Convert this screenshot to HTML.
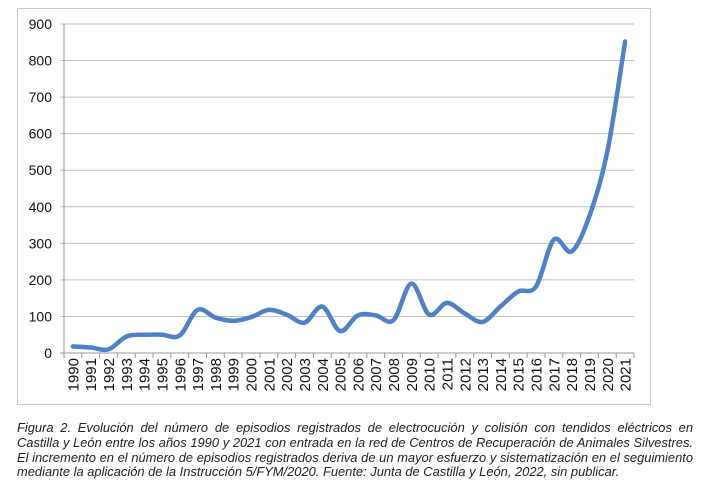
<!DOCTYPE html>
<html><head><meta charset="utf-8"><style>
body{margin:0;background:#fff;width:714px;height:488px;overflow:hidden;font-family:"Liberation Sans",sans-serif}
.cap{position:absolute;left:17px;top:421px;width:676px;font-style:italic;font-size:12.9px;line-height:14.8px;color:#222;text-align:justify}
.cap span{display:block;text-align:justify;text-align-last:justify;white-space:nowrap}
.cap span.l{text-align-last:left}
</style></head><body>
<svg id="s" width="714" height="488" style="position:absolute;left:0;top:0" font-family="Liberation Sans, sans-serif">
<rect x="17.5" y="8.5" width="633" height="396" fill="none" stroke="#c8c8c8"/>
<g id="g"></g>
</svg>
<div class="cap">
<span>Figura 2. Evolución del número de episodios registrados de electrocución y colisión con tendidos eléctricos en</span>
<span>Castilla y León entre los años 1990 y 2021 con entrada en la red de Centros de Recuperación de Animales Silvestres.</span>
<span>El incremento en el número de episodios registrados deriva de un mayor esfuerzo y sistematización en el seguimiento</span>
<span class="l">mediante la aplicación de la Instrucción 5/FYM/2020. Fuente: Junta de Castilla y León, 2022, sin publicar.</span>
</div>
<script>
var g=document.getElementById('g'),h='';
var L=64,R=634,T=24,B=353,n=32,w=(R-L)/n,k=(B-T)/900;
for(var v=0;v<=900;v+=100){var y=B-v*k;
h+='<line x1="'+(L-4)+'" x2="'+R+'" y1="'+y+'" y2="'+y+'" stroke="'+(v==0?'#999':'#c0c0c0')+'" stroke-width="1"/>';
h+='<text x="'+(L-12)+'" y="'+(y+5)+'" font-size="14" text-anchor="end" fill="#111">'+v+'</text>';}
h+='<line x1="'+L+'" x2="'+L+'" y1="'+T+'" y2="'+B+'" stroke="#999"/>';
for(var i=0;i<=n;i++){var x=L+i*w;h+='<line x1="'+x+'" x2="'+x+'" y1="'+B+'" y2="'+(B+5)+'" stroke="#999"/>';}
for(var i=0;i<n;i++){var x=L+(i+.5)*w;
h+='<text transform="translate('+(x+5.5)+','+(B+5)+') rotate(-90)" font-size="15" text-anchor="end" fill="#111">'+(1990+i)+'</text>';}
var d=[18,15,10,45,50,50,48,118,97,88,98,118,105,83,127,60,103,103,90,190,105,137,108,85,127,168,182,310,278,375,550,852];
var p=d.map(function(v,i){return [L+(i+.5)*w,B-v*k]});
var s='M'+p[0][0]+','+p[0][1];
for(var i=0;i<p.length-1;i++){var a=p[i-1]||p[i],b=p[i],c=p[i+1],e=p[i+2]||c,t=6;
s+=' C'+(b[0]+(c[0]-a[0])/t)+','+(b[1]+(c[1]-a[1])/t)+' '+(c[0]-(e[0]-b[0])/t)+','+(c[1]-(e[1]-b[1])/t)+' '+c[0]+','+c[1];}
h+='<path d="'+s+'" fill="none" stroke="#4f81c4" stroke-width="4.5" stroke-linecap="round" stroke-linejoin="round"/>';
g.innerHTML=h;
</script>
</body></html>
